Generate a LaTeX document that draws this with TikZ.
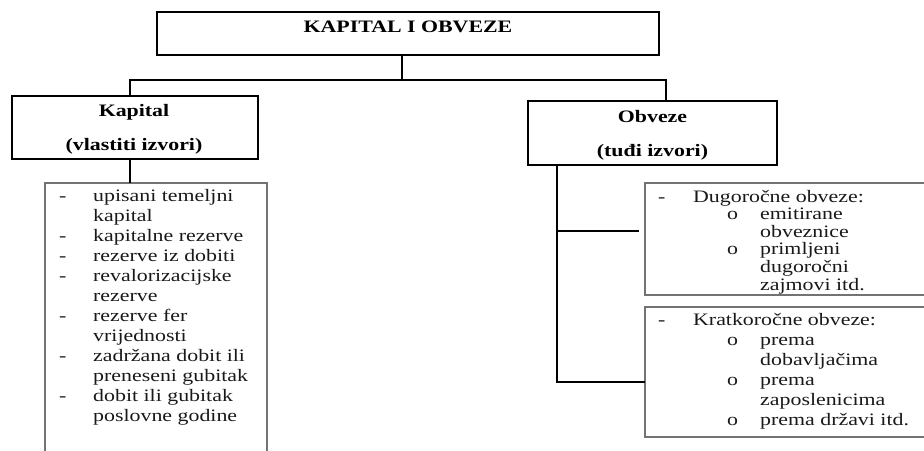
\documentclass[tikz,border=0pt]{standalone}
\usepackage{fontspec}
\setmainfont{Liberation Serif}[FakeStretch=1.25]
\tikzset{
  x=1pt, y=-1pt,
  mainbox/.style={draw, line width=2.6pt, rectangle, inner sep=0pt, outer sep=0pt, anchor=north west},
  listbox/.style={draw=black!55, line width=1.1pt, rectangle, inner sep=0pt, outer sep=0pt, anchor=north west},
  conn/.style={line width=2pt},
  thinconn/.style={line width=1.6pt},
  head/.style={font=\fontsize{17.5}{20}\selectfont\bfseries, inner sep=0pt, anchor=base},
  listtxt/.style={font=\fontsize{17.5}{20}\selectfont, inner sep=0pt, anchor=base west, text=black!90},
  listtxttight/.style={font=\fontsize{17.5}{17.6}\selectfont, inner sep=0pt, anchor=base west, text=black!90},
}
\newcommand\dsh[1]{\makebox[#1][l]{-}}
\newcommand\bul{\makebox[33pt][l]{o}}
\begin{document}
\begin{tikzpicture}
\useasboundingbox (0,0) rectangle (924,450);
\clip (0,0) rectangle (924,450);

% boxes
\node[mainbox, minimum width=502pt, minimum height=43pt] (top) at (157,12) {};
\node[mainbox, minimum width=246pt, minimum height=63pt] (kap) at (12,96) {};
\node[mainbox, minimum width=249pt, minimum height=64pt] (obv) at (528,101) {};
\node[listbox, minimum width=222pt, minimum height=320pt] (lst) at (45,183) {};
\node[listbox, minimum width=320pt, minimum height=112pt] (dug) at (645,183) {};
\node[listbox, minimum width=320pt, minimum height=130pt] (krat) at (645,307) {};

% headings
\node[head] (toptxt) at (408,32.3) {KAPITAL I OBVEZE};
\node[head] (kap1) at (134,116.7) {Kapital};
\node[head] (kap2) at (134,150) {(vlastiti izvori)};
\node[head] (obv1) at (652.5,122.3) {Obveze};
\node[head] (obv2) at (652.5,156.5) {(tuđi izvori)};

% list texts
\node[listtxt] (lsttxt) at (59,201.7) {\begin{tabular}[t]{@{}l@{}}
\dsh{34pt}upisani temeljni\\
\hspace*{34pt}kapital\\
\dsh{34pt}kapitalne rezerve\\
\dsh{34pt}rezerve iz dobiti\\
\dsh{34pt}revalorizacijske\\
\hspace*{34pt}rezerve\\
\dsh{34pt}rezerve fer\\
\hspace*{34pt}vrijednosti\\
\dsh{34pt}zadržana dobit ili\\
\hspace*{34pt}preneseni gubitak\\
\dsh{34pt}dobit ili gubitak\\
\hspace*{34pt}poslovne godine
\end{tabular}};

\node[listtxttight] (dugtxt) at (658,202) {\begin{tabular}[t]{@{}l@{}}
\dsh{35pt}Dugoročne obveze:\\
\hspace*{69pt}\bul emitirane\\
\hspace*{102pt}obveznice\\
\hspace*{69pt}\bul primljeni\\
\hspace*{102pt}dugoročni\\
\hspace*{102pt}zajmovi itd.
\end{tabular}};

\node[listtxt] (krattxt) at (658,325.7) {\begin{tabular}[t]{@{}l@{}}
\dsh{35pt}Kratkoročne obveze:\\
\hspace*{69pt}\bul prema\\
\hspace*{102pt}dobavljačima\\
\hspace*{69pt}\bul prema\\
\hspace*{102pt}zaposlenicima\\
\hspace*{69pt}\bul prema državi itd.
\end{tabular}};

% connectors
\coordinate (j) at (402,80);
\coordinate (kx) at (130,80);
\coordinate (ox) at (666,80);
\coordinate (rm) at (557,231);
\coordinate (rme) at (639,231);
\coordinate (rb) at (557,382);

\draw[conn] (top.south -| j) -- (j);
\draw[conn] (kx |- kap.north) -- (kx) -- (ox) -- (ox |- obv.north);
\draw[conn] (kap.south -| kx) -- (kx |- lst.north);
\draw[conn] (obv.south -| rb) -- (rb) -- (krat.west |- rb);
\draw[thinconn] (rm) -- (rme);
\end{tikzpicture}
\end{document}
